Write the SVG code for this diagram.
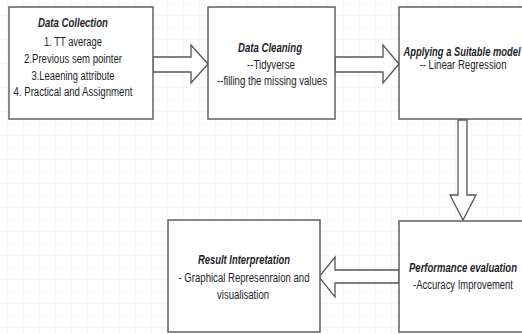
<svg xmlns="http://www.w3.org/2000/svg" width="522" height="334" viewBox="0 0 522 334">
<style>
.box{fill:#ffffff;stroke:#606060;stroke-width:1.5}
.arr{fill:#ffffff;stroke:#555555;stroke-width:1.3;stroke-linejoin:miter}
text{font-family:"Liberation Sans",Arial,sans-serif;font-size:12px;fill:#1e1e2a;text-anchor:middle}
.t{font-style:italic;font-weight:bold}
</style>
<defs>
<pattern id="grid" width="16" height="12" patternUnits="userSpaceOnUse" x="8" y="4">
<path d="M16 0V12M0 12H16" fill="none" stroke="#f0f0f0" stroke-width="1"/>
</pattern>
</defs>
<rect width="522" height="334" fill="#ffffff"/>
<rect width="522" height="334" fill="url(#grid)"/>
<g id="connectors">
<polygon class="arr" points="153,57 191,57 191,45 208,64 191,83 191,72 153,72"/>
<polygon class="arr" points="335,57 383,57 383,45 399,64 383,83 383,72 335,72"/>
<polygon class="arr" points="458,120 467,120 467,195 476,195 463,220 450,195 458,195"/>
<polygon class="arr" points="399,270 335,270 335,257 319,277 335,297 335,283 399,283"/>
</g>
<g id="data-collection">
<rect class="box" x="9" y="7" width="144" height="112"/>
<text class="t" x="73" y="27" textLength="70" lengthAdjust="spacingAndGlyphs">Data Collection</text>
<text x="73" y="46" textLength="58" lengthAdjust="spacingAndGlyphs">1. TT average</text>
<text x="73" y="63" textLength="98" lengthAdjust="spacingAndGlyphs">2.Previous sem pointer</text>
<text x="73" y="80" textLength="83" lengthAdjust="spacingAndGlyphs">3.Leaening attribute</text>
<text x="73" y="96" textLength="119" lengthAdjust="spacingAndGlyphs">4. Practical and Assignment</text>
</g>
<g id="data-cleaning">
<rect class="box" x="208" y="7" width="127" height="112"/>
<text class="t" x="270" y="52" textLength="64" lengthAdjust="spacingAndGlyphs">Data Cleaning</text>
<text x="271" y="69" textLength="48" lengthAdjust="spacingAndGlyphs">--Tidyverse</text>
<text x="272" y="85" textLength="110" lengthAdjust="spacingAndGlyphs">--filling the missing values</text>
</g>
<g id="model">
<rect class="box" x="399" y="7" width="126" height="112"/>
<text class="t" x="462" y="56" textLength="117" lengthAdjust="spacingAndGlyphs">Applying a Suitable model</text>
<text x="463" y="69" textLength="87" lengthAdjust="spacingAndGlyphs">-- Linear Regression</text>
</g>
<g id="performance">
<rect class="box" x="399" y="221" width="126" height="111"/>
<text class="t" x="463" y="272" textLength="108" lengthAdjust="spacingAndGlyphs">Performance evaluation</text>
<text x="463" y="289" textLength="100" lengthAdjust="spacingAndGlyphs">-Accuracy Improvement</text>
</g>
<g id="result">
<rect class="box" x="168" y="220" width="152" height="112"/>
<text class="t" x="244" y="264" textLength="92" lengthAdjust="spacingAndGlyphs">Result Interpretation</text>
<text x="244" y="282" textLength="131" lengthAdjust="spacingAndGlyphs">- Graphical Represenraion and</text>
<text x="243" y="299" textLength="52" lengthAdjust="spacingAndGlyphs">visualisation</text>
</g>
</svg>
